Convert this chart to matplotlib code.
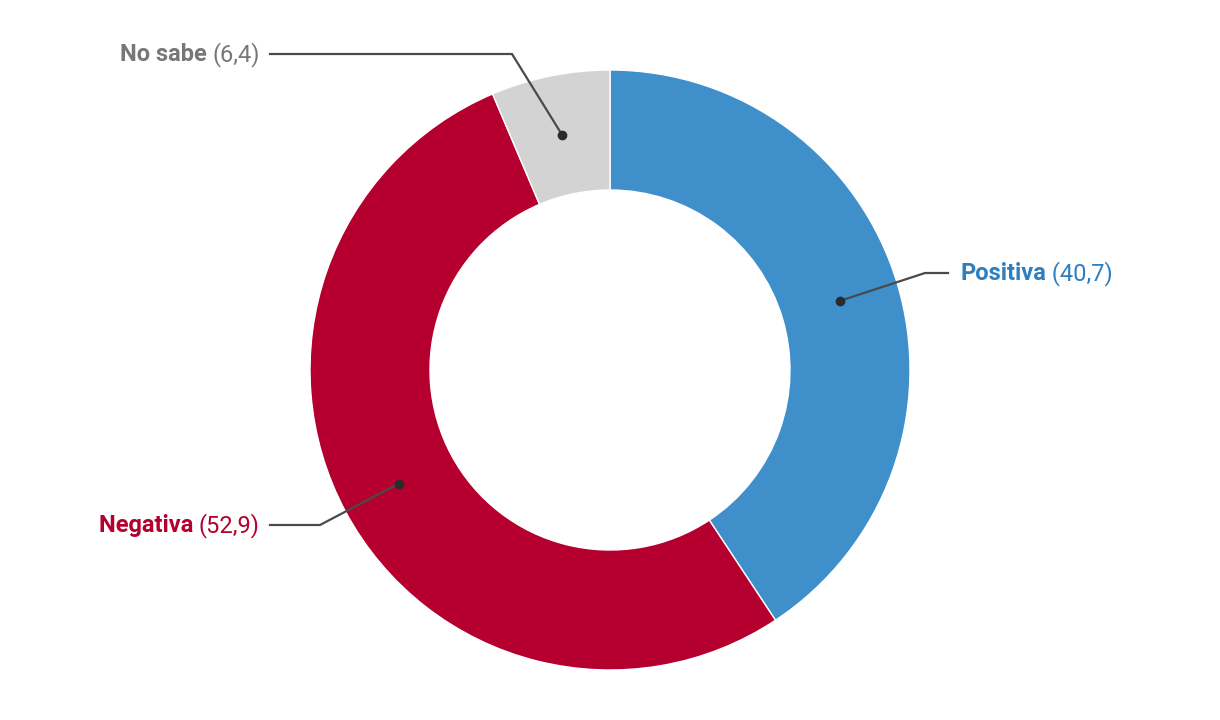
import matplotlib
matplotlib.use("Agg")
import matplotlib.pyplot as plt
import numpy as np

# data
labels = ["Positiva", "Negativa", "No sabe"]
values = [40.7, 52.9, 6.4]
value_text = ["(40,7)", "(52,9)", "(6,4)"]
colors = ["#3f8fca", "#b5002f", "#d3d3d3"]
text_colors = ["#2f7fbf", "#b5002f", "#777777"]

plt.rcParams["font.family"] = ["Roboto", "DejaVu Sans"]

W, H = 1220, 720
fig = plt.figure(figsize=(W / 100, H / 100), dpi=100)
ax = fig.add_axes([0, 0, 1, 1])

cx, cy = 610, H - 370
R, ring = 300, 120

wedges, _ = ax.pie(values, colors=colors, startangle=90, counterclock=False,
                   center=(cx, cy), radius=R, frame=True,
                   wedgeprops=dict(width=ring, edgecolor="white", linewidth=1))
ax.set_xlim(0, W)
ax.set_ylim(0, H)
ax.set_aspect("equal")
ax.axis("off")

# leader lines: dot on mid-ring -> elbow -> end (pixel coords, y from top)
elbows = [(925, 273), (320, 525), (512, 54)]
ends = [(948, 273), (270, 525), (270, 54)]
sides = ["left", "right", "right"]

for i, w in enumerate(wedges):
    ang = np.deg2rad((w.theta1 + w.theta2) / 2)
    rm = R - ring / 2
    px, py = cx + rm * np.cos(ang), cy + rm * np.sin(ang)
    ex, ey = elbows[i][0], H - elbows[i][1]
    fx, fy = ends[i][0], H - ends[i][1]
    ax.plot([px, ex, fx], [py, ey, fy], color="#4a4a4a", lw=1.6, zorder=5)
    ax.plot(px, py, "o", color="#2b2b2b", ms=6, zorder=6)

    ty = fy - 7
    if sides[i] == "left":
        t1 = ax.text(fx + 12, ty, labels[i], color=text_colors[i], fontsize=17,
                     fontweight="bold", ha="left", va="baseline")
        ax.annotate(" " + value_text[i], xy=(1, ty), xycoords=(t1, "data"),
                    color=text_colors[i], fontsize=17, fontweight="normal",
                    ha="left", va="baseline")
    else:
        t2 = ax.text(fx - 10, ty, value_text[i], color=text_colors[i], fontsize=17,
                     fontweight="normal", ha="right", va="baseline")
        ax.annotate(labels[i] + " ", xy=(0, ty), xycoords=(t2, "data"),
                    color=text_colors[i], fontsize=17, fontweight="bold",
                    ha="right", va="baseline")

fig.savefig("out.png", dpi=100, facecolor="white")
